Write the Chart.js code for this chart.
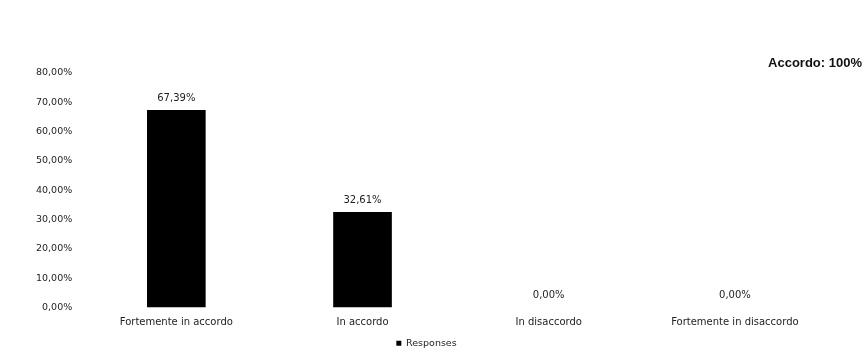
<!DOCTYPE html>
<html>
<head>
<meta charset="utf-8">
<script src="https://cdn.jsdelivr.net/npm/chart.js@4/dist/chart.umd.min.js"></script>
<style>
  html, body { margin: 0; padding: 0; background: #fff; }
  #wrap { width: 864px; height: 353px; }
</style>
</head>
<body>
<div id="wrap"><canvas id="chart"></canvas></div>
<script>
const categories = ['Fortemente in accordo', 'In accordo', 'In disaccordo', 'Fortemente in disaccordo'];
const responses = [67.39, 32.61, 0, 0];
const yTicks = [0, 10, 20, 30, 40, 50, 60, 70, 80];
const titleText = 'Accordo: 100%';

const FONT = "'DejaVu Sans', sans-serif";

function pct(v) {
  return v.toFixed(2).replace('.', ',') + '%';
}

// value labels above each bar + the right-aligned heading
const valueLabels = {
  id: 'valueLabels',
  afterDatasetsDraw(chart) {
    const ctx = chart.ctx;
    ctx.save();
    ctx.fillStyle = '#222';
    ctx.font = '10px ' + FONT;
    ctx.textAlign = 'center';
    ctx.textBaseline = 'middle';
    chart.getDatasetMeta(0).data.forEach((bar, i) => {
      ctx.fillText(pct(responses[i]), bar.x, bar.y - 12);
    });
    ctx.font = "bold 13px 'Liberation Sans', sans-serif";
    ctx.textAlign = 'right';
    ctx.fillStyle = '#111';
    ctx.fillText(titleText, chart.width - 2, 63);
    ctx.restore();
  }
};

new Chart(document.getElementById('chart'), {
  type: 'bar',
  data: {
    labels: categories,
    datasets: [{
      label: 'Responses',
      data: responses,
      backgroundColor: '#000',
      borderWidth: 0,
      barPercentage: 0.63,
      categoryPercentage: 0.5
    }]
  },
  options: {
    responsive: true,
    maintainAspectRatio: false,
    animation: false,
    layout: { padding: { top: 73, right: 36, left: 25, bottom: -5 } },
    plugins: {
      title: { display: false },
      tooltip: { enabled: false },
      legend: {
        position: 'bottom',
        labels: {
          boxWidth: 5,
          boxHeight: 5,
          padding: 1,
          color: '#222',
          font: { family: FONT, size: 9.5 }
        }
      }
    },
    scales: {
      x: {
        grid: { display: false, drawTicks: false },
        border: { display: false },
        ticks: { color: '#222', padding: 9, maxRotation: 0, font: { family: FONT, size: 10 } }
      },
      y: {
        min: 0,
        max: 80,
        afterBuildTicks(axis) {
          axis.ticks = yTicks.map(v => ({ value: v }));
        },
        grid: { display: false, drawTicks: false },
        border: { display: false },
        ticks: {
          color: '#222',
          padding: 11,
          font: { family: FONT, size: 9.5 },
          callback: v => pct(v)
        }
      }
    }
  },
  plugins: [valueLabels]
});
</script>
</body>
</html>
